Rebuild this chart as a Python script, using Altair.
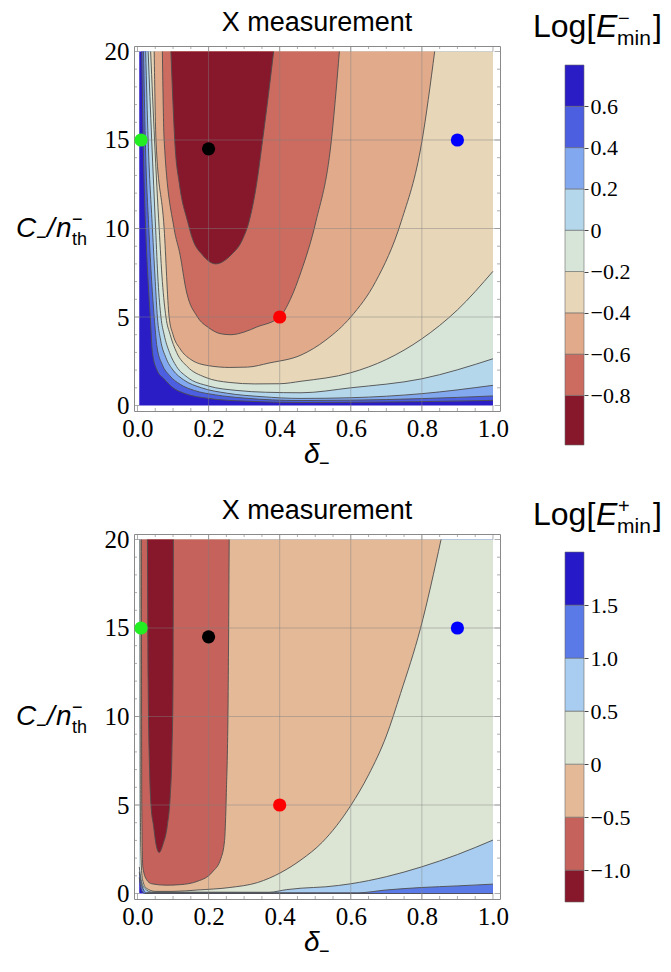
import altair as alt
import pandas as pd

# ---------------- data ----------------
x_ticks = [0.0, 0.2, 0.4, 0.6, 0.8, 1.0]
y_ticks = [0, 5, 10, 15, 20]
x_minor = [0.05, 0.1, 0.15, 0.25, 0.3, 0.35, 0.45, 0.5, 0.55, 0.65, 0.7, 0.75, 0.85, 0.9, 0.95]
y_minor = [1, 2, 3, 4, 6, 7, 8, 9, 11, 12, 13, 14, 16, 17, 18, 19]
x_grid = [0.2, 0.4, 0.6, 0.8]
y_grid = [5, 10, 15]

pt_x = [0.01, 0.2, 0.4, 0.9]
pt_y = [15.0, 14.5, 5.0, 15.0]
pt_col = ['#22ee22', '#000000', '#ff0000', '#0000ff']

title_text = "X measurement"
ytitle_parts = ["C", "\u2212", "/", "n", "\u2212", "th"]
xtitle_parts = ["\u03b4", "\u2212"]
ltitle_minus = ["Log[", "E", "\u2212", "min", "]"]
ltitle_plus = ["Log[", "E", "+", "min", "]"]

# ---- top panel: Log[E-_min] ----
minus_levels = [-0.8, -0.6, -0.4, -0.2, 0.0, 0.2, 0.4, 0.6]
minus_colors = ['#87172b', '#cc6c60', '#e1aa8b', '#e7d6b8', '#d7e5d9',
                '#b5d7ec', '#82a9f0', '#4b5fe0', '#2a1dc6']
minus_range = [-1.04, 0.8]

# boundary of region "value < level", as y(x)
m06_x = [0.012, 0.016, 0.023, 0.030, 0.036, 0.042, 0.055, 0.075, 0.10, 0.13, 0.20, 0.30, 0.46, 0.60, 0.80, 1.00]
m06_y = [20, 15, 10, 7, 5, 3, 2, 1.5, 1.0, 0.7, 0.4, 0.25, 0.17, 0.18, 0.22, 0.29]
m04_x = [0.017, 0.022, 0.032, 0.040, 0.047, 0.055, 0.07, 0.09, 0.12, 0.16, 0.22, 0.30, 0.46, 0.60, 0.80, 1.00]
m04_y = [20, 15, 10, 7, 5, 3.3, 2.3, 1.7, 1.2, 0.85, 0.6, 0.42, 0.28, 0.30, 0.39, 0.54]
m02_x = [0.023, 0.030, 0.042, 0.050, 0.056, 0.065, 0.08, 0.10, 0.13, 0.18, 0.25, 0.35, 0.46, 0.60, 0.80, 1.00]
m02_y = [20, 15, 10, 7, 5, 3.7, 2.7, 2.0, 1.45, 1.0, 0.7, 0.5, 0.4, 0.44, 0.67, 1.14]
m00_x = [0.030, 0.040, 0.051, 0.058, 0.066, 0.075, 0.09, 0.11, 0.14, 0.20, 0.28, 0.36, 0.46, 0.60, 0.80, 1.00]
m00_y = [20, 15, 10, 7, 5, 4, 3, 2.2, 1.6, 1.1, 0.85, 0.75, 0.72, 1.0, 1.51, 2.64]
mm02_x = [0.037, 0.048, 0.061, 0.070, 0.080, 0.092, 0.11, 0.14, 0.19, 0.26, 0.33, 0.40, 0.46, 0.60, 0.70, 0.80, 0.90, 1.00]
mm02_y = [20, 15, 10, 7, 5, 4, 3, 2.2, 1.6, 1.3, 1.22, 1.23, 1.37, 1.85, 2.6, 3.77, 5.4, 7.58]
mm04_x = [0.047, 0.052, 0.075, 0.089, 0.10, 0.12, 0.15, 0.20, 0.26, 0.31, 0.37, 0.46, 0.53, 0.60, 0.67, 0.742, 0.80, 0.836]
mm04_y = [20, 15, 10, 5, 4, 3.2, 2.6, 2.25, 2.15, 2.17, 2.4, 2.85, 3.7, 5.0, 7.0, 10.4, 14.9, 20]
mm06_x = [0.070, 0.075, 0.103, 0.12, 0.136, 0.169, 0.20, 0.235, 0.263, 0.30, 0.335, 0.40, 0.43, 0.46, 0.502, 0.545, 0.568]
mm06_y = [20, 15, 10, 8.5, 6.6, 5.0, 4.4, 4.05, 4.0, 4.15, 4.43, 5.0, 6.0, 7.55, 10.4, 14.9, 20]
mm08_x = [0.094, 0.100, 0.105, 0.118, 0.141, 0.155, 0.183, 0.22, 0.263, 0.296, 0.314, 0.335, 0.352, 0.368, 0.383]
mm08_y = [20, 17, 14.9, 12.5, 10.4, 9.4, 8.5, 8.0, 8.5, 9.4, 10.4, 12.5, 15, 17.5, 20]

# ---- bottom panel: Log[E+_min] ----
plus_levels = [-1.0, -0.5, 0.0, 0.5, 1.0, 1.5]
plus_colors = ['#87172b', '#c4625b', '#e4b998', '#dce5d4', '#a8cdf0', '#5a7ae8', '#2519c8']
plus_range = [-1.3, 2.0]

p15_x = [0.005, 0.008, 0.012, 0.02, 1.0]
p15_y = [0.9, 0.5, 0.15, 0.0, 0.0]
p10_x = [0.005, 0.01, 0.015, 0.025, 0.62, 0.70, 0.80, 0.90, 1.0]
p10_y = [1.2, 0.6, 0.3, 0.05, 0.04, 0.2, 0.34, 0.43, 0.53]
p05_x = [0.005, 0.01, 0.02, 0.04, 0.37, 0.42, 0.46, 0.53, 0.60, 0.70, 0.80, 0.90, 1.0]
p05_y = [1.5, 0.8, 0.3, 0.08, 0.07, 0.22, 0.3, 0.38, 0.55, 0.95, 1.51, 2.2, 3.02]
p00_x = [0.007, 0.008, 0.010, 0.014, 0.025, 0.05, 0.10, 0.17, 0.26, 0.338, 0.404, 0.46, 0.52, 0.60, 0.65, 0.70, 0.74, 0.796, 0.854]
p00_y = [20, 5, 2, 0.8, 0.3, 0.12, 0.12, 0.2, 0.34, 0.62, 1.19, 1.9, 2.9, 4.97, 6.7, 8.9, 11.3, 14.97, 20]
pm05_x = [0.011, 0.012, 0.015, 0.025, 0.04, 0.08, 0.12, 0.17, 0.21, 0.235, 0.245, 0.25, 0.255, 0.258]
pm05_y = [20, 5, 1.5, 0.8, 0.55, 0.47, 0.5, 0.7, 1.2, 2.0, 3.0, 5.7, 11, 20]
pm10_x = [0.028, 0.030, 0.034, 0.038, 0.045, 0.052, 0.061, 0.072, 0.084, 0.092, 0.097, 0.100, 0.101]
pm10_y = [20, 12, 7, 5, 3.85, 2.8, 2.32, 2.8, 3.85, 5.5, 8, 12, 20]

data_x_range = [0.005, 1.0]
data_y_range = [0.0, 20.0]

# ---------------- style ----------------
SANS = "Liberation Sans"
SERIF = "Liberation Serif"
FRAME = "#8a8a8a"
W, H = 366, 365
XS = alt.Scale(domain=[-0.0098, 1.0198], nice=False, zero=False)
YS = alt.Scale(domain=[-0.31, 20.31], nice=False, zero=False)
XAX = alt.Axis(values=x_ticks, format='.1f', labelFont=SERIF, labelFontSize=25, labelColor='black',
               domain=False, ticks=False, grid=False, title=None, labelPadding=5)
YAX = alt.Axis(values=y_ticks, format='d', labelFont=SERIF, labelFontSize=25, labelColor='black',
               domain=False, ticks=False, grid=False, title=None, labelPadding=5, labelBaseline='middle')


def X(f):
    return alt.X(f, scale=XS, axis=XAX)


def Y(f):
    return alt.Y(f, scale=YS, axis=YAX)


def txt(s, x, y, size, italic=False, align='left', font=SANS):
    return alt.Chart(pd.DataFrame({'t': [s]})).mark_text(
        align=align, baseline='alphabetic', font=font, fontSize=size,
        fontStyle='italic' if italic else 'normal', color='black'
    ).encode(text='t:N', x=alt.value(x), y=alt.value(y))


def tick_layer(vals, side, length):
    df = pd.DataFrame({'v': vals})
    if side in ('bottom', 'top'):
        yv = H - length / 2 if side == 'bottom' else length / 2
        return alt.Chart(df).mark_tick(size=length, thickness=1, color=FRAME, orient='vertical').encode(
            x=X('v:Q'), y=alt.value(yv))
    xv = length / 2 if side == 'left' else W - length / 2
    return alt.Chart(df).mark_tick(size=length, thickness=1, color=FRAME, orient='horizontal').encode(
        y=Y('v:Q'), x=alt.value(xv))


def panel(contours, colors):
    bg = alt.Chart(pd.DataFrame({'x': [data_x_range[0]], 'x2': [data_x_range[1]],
                                 'y': [data_y_range[0]], 'y2': [data_y_range[1]]})).mark_rect(
        color=colors[-1]).encode(x=X('x:Q'), x2='x2:Q', y=Y('y:Q'), y2='y2:Q')
    layers = [bg]
    lines = []
    n = len(contours)
    for i, (cx, cy) in enumerate(contours):
        col = colors[n - 1 - i]
        df = pd.DataFrame({'x': cx, 'y': cy})
        layers.append(alt.Chart(df).mark_area(color=col, interpolate='monotone').encode(
            x=X('x:Q'), y=Y('y:Q'), y2=alt.datum(20)))
        lines.append(alt.Chart(df).mark_line(color='#4d4d4d', strokeWidth=0.9, interpolate='monotone').encode(
            x=X('x:Q'), y=Y('y:Q')))
    layers += lines
    layers.append(alt.Chart(pd.DataFrame({'v': x_grid})).mark_rule(color='#808080', opacity=0.45, strokeWidth=1).encode(
        x=X('v:Q')))
    layers.append(alt.Chart(pd.DataFrame({'v': y_grid})).mark_rule(color='#808080', opacity=0.45, strokeWidth=1).encode(
        y=Y('v:Q')))
    for side in ('bottom', 'top'):
        layers.append(tick_layer(x_ticks, side, 5.5))
        layers.append(tick_layer(x_minor, side, 3))
    for side in ('left', 'right'):
        layers.append(tick_layer(y_ticks, side, 5.5))
        layers.append(tick_layer(y_minor, side, 3))
    pts = pd.DataFrame({'x': pt_x, 'y': pt_y, 'c': pt_col})
    layers.append(alt.Chart(pts).mark_circle(size=175, opacity=1).encode(
        x=X('x:Q'), y=Y('y:Q'), color=alt.Color('c:N', scale=None)))
    # titles
    layers.append(txt(title_text, W / 2, -15, 27, align='center'))
    layers.append(txt(ytitle_parts[0], -118, 191, 28, italic=True))
    layers.append(txt(ytitle_parts[1], -98, 197, 18))
    layers.append(txt(ytitle_parts[2], -87, 191, 28, italic=True))
    layers.append(txt(ytitle_parts[3], -78, 191, 28, italic=True))
    layers.append(txt(ytitle_parts[4], -62, 179, 18))
    layers.append(txt(ytitle_parts[5], -62, 199, 18))
    layers.append(txt(xtitle_parts[0], 170, 417, 28, italic=True))
    layers.append(txt(xtitle_parts[1], 185, 423, 18))
    return alt.layer(*layers).properties(width=W, height=H,
                                         view=alt.ViewBackground(stroke=FRAME, strokeWidth=1))


def colorbar(levels, colors, rng, height, dom_top, tparts):
    edges = [rng[0]] + levels + [rng[1]]
    df = pd.DataFrame({'lo': edges[:-1], 'hi': edges[1:], 'c': colors})
    ys = alt.Scale(domain=[rng[0], dom_top], nice=False, zero=False)
    bar = alt.Chart(df).mark_rect(stroke='#6a6a6a', strokeWidth=0.6).encode(
        y=alt.Y('lo:Q', scale=ys, axis=alt.Axis(
            values=levels, orient='right', labelExpr="datum.value == 0 ? '0' : format(datum.value, '.1f')",
            labelFont=SERIF, labelFontSize=22, labelColor='black', domain=False, grid=False,
            ticks=True, tickSize=4, tickColor='#444', labelPadding=2, title=None, labelBaseline='middle')),
        y2='hi:Q', x=alt.value(0), x2=alt.value(19), color=alt.Color('c:N', scale=None))
    t = [
        txt(tparts[0], -32, -9, 32),
        txt(tparts[1], 31, -9, 32, italic=True),
        txt(tparts[2], 53, -21, 20),
        txt(tparts[3], 52, -1, 21),
        txt(tparts[4], 88, -9, 32),
    ]
    return alt.layer(bar, *t).properties(width=19, height=height)


top_contours = [(m06_x, m06_y), (m04_x, m04_y), (m02_x, m02_y), (m00_x, m00_y),
                (mm02_x, mm02_y), (mm04_x, mm04_y), (mm06_x, mm06_y), (mm08_x, mm08_y)]
bot_contours = [(p15_x, p15_y), (p10_x, p10_y), (p05_x, p05_y), (p00_x, p00_y),
                (pm05_x, pm05_y), (pm10_x, pm10_y)]

top_plot = panel(top_contours, minus_colors)
bot_plot = panel(bot_contours, plus_colors)
top_cbar = colorbar(minus_levels, minus_colors, minus_range, 399, 0.892, ltitle_minus)
bot_cbar = colorbar(plus_levels, plus_colors, plus_range, 368, 2.17, ltitle_plus)

chart = alt.concat(top_plot, top_cbar, bot_plot, bot_cbar, columns=2,
                   spacing=alt.RowColnumber(row=89, column=65), bounds='flush').properties(
    padding={"left": 7, "top": 0, "right": 0, "bottom": 0}
).configure_view(stroke='transparent')

chart.save("out.html", embed_options={"renderer": "svg", "actions": False})
